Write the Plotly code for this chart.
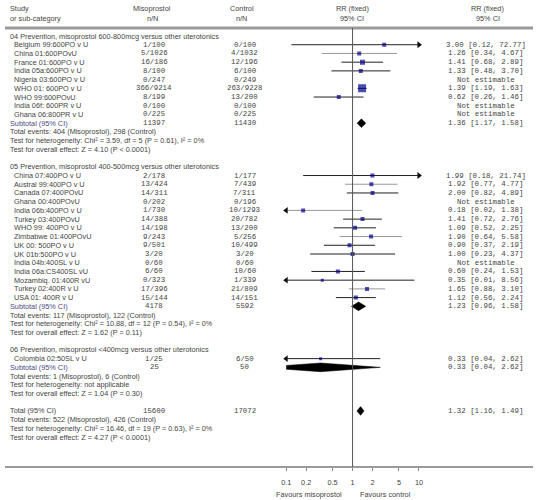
import plotly.graph_objects as go

# ---------------- data ----------------
s04_title = "04 Prevention, misoprostol 600-800mcg versus other uterotonics"
s04_studies = ["Belgium 99:600PO v U", "China 01:600POvU", "France 01:600PO v U",
               "India 05a:600PO v U", "Nigeria 03:600PO v U", "WHO 01: 600PO v U",
               "WHO 99:600POvU", "India 06f: 600PR v U", "Ghana 06:800PR v U"]
s04_miso = ["1/100", "5/1026", "16/186", "8/100", "0/247", "366/9214", "8/199", "0/100", "0/225"]
s04_ctrl = ["0/100", "4/1032", "12/196", "6/100", "0/249", "263/9228", "13/200", "0/100", "0/225"]
s04_rr = [3.00, 1.26, 1.41, 1.33, None, 1.39, 0.62, None, None]
s04_lo = [0.12, 0.34, 0.68, 0.48, None, 1.19, 0.26, None, None]
s04_hi = [72.77, 4.67, 2.89, 3.70, None, 1.63, 1.46, None, None]
s04_sub_n = ["11397", "11430"]
s04_sub = [1.36, 1.17, 1.58]
s04_notes = ["Total events: 404 (Misoprostol), 298 (Control)",
             "Test for heterogeneity: Chi² = 3.59, df = 5 (P = 0.61), I² = 0%",
             "Test for overall effect: Z = 4.10 (P < 0.0001)"]

s05_title = "05 Prevention, misoprostol 400-500mcg versus other uterotonics"
s05_studies = ["China 07:400PO v U", "Austral 99:400PO v U", "Canada 07:400POvU",
               "Ghana 00:400POvU", "India 06b:400PO v U", "Turkey 03:400POvU",
               "WHO 99: 400PO v U", "Zimbabwe 01:400POvU", "UK 00: 500PO v U",
               "UK 01b:500PO v U", "India 04b:400SL v U", "India 06a:CS400SL vU",
               "Mozambiq. 01:400R vU", "Turkey 02:400R v U", "USA 01: 400R v U"]
s05_miso = ["2/178", "13/424", "14/311", "0/202", "1/730", "14/388", "14/198", "9/243",
            "9/501", "3/20", "0/60", "6/60", "0/323", "17/396", "15/144"]
s05_ctrl = ["1/177", "7/439", "7/311", "0/196", "10/1293", "20/782", "13/200", "5/256",
            "10/499", "3/20", "0/60", "10/60", "1/339", "21/809", "14/151"]
s05_rr = [1.99, 1.92, 2.00, None, 0.18, 1.41, 1.09, 1.90, 0.90, 1.00, None, 0.60, 0.35, 1.65, 1.12]
s05_lo = [0.18, 0.77, 0.82, None, 0.02, 0.72, 0.52, 0.64, 0.37, 0.23, None, 0.24, 0.01, 0.88, 0.56]
s05_hi = [21.74, 4.77, 4.89, None, 1.38, 2.76, 2.25, 5.58, 2.19, 4.37, None, 1.53, 8.56, 3.10, 2.24]
s05_sub_n = ["4178", "5592"]
s05_sub = [1.23, 0.96, 1.58]
s05_notes = ["Total events: 117 (Misoprostol), 122 (Control)",
             "Test for heterogeneity: Chi² = 10.88, df = 12 (P = 0.54), I² = 0%",
             "Test for overall effect: Z = 1.62 (P = 0.11)"]

s06_title = "06 Prevention, misoprostol <400mcg versus other uterotonics"
s06_studies = ["Colombia 02:50SL v U"]
s06_miso = ["1/25"]
s06_ctrl = ["6/50"]
s06_rr = [0.33]
s06_lo = [0.04]
s06_hi = [2.62]
s06_sub_n = ["25", "50"]
s06_sub = [0.33, 0.04, 2.62]
s06_notes = ["Total events: 1 (Misoprostol), 6 (Control)",
             "Test for heterogeneity: not applicable",
             "Test for overall effect: Z = 1.04 (P = 0.30)"]

total_n = ["15600", "17072"]
total_rr = [1.32, 1.16, 1.49]
total_notes = ["Total events: 522 (Misoprostol), 426 (Control)",
               "Test for heterogeneity: Chi² = 16.46, df = 19 (P = 0.63), I² = 0%",
               "Test for overall effect: Z = 4.27 (P < 0.0001)"]

tick_vals = [0.1, 0.2, 0.5, 1, 2, 5, 10]
tick_text = ["0.1", "0.2", "0.5", "1", "2", "5", "10"]

# ---------------- styles ----------------
s04_sq = [4, 4, 5, 4, 0, 8, 4, 0, 0]
s04_lc = ["#222", "#999", "#222", "#222", "#222", "#222", "#222", "#222", "#222"]
s05_sq = [4, 4, 4, 0, 4, 4, 4, 4, 4, 4, 0, 4, 3, 4, 4]
s05_lc = ["#222", "#999", "#222", "#222", "#999", "#222", "#222", "#999", "#222", "#222",
          "#222", "#222", "#222", "#999", "#222"]
s06_sq = [3]
s06_lc = ["#222"]

W, H = 537, 500
Y0, S = 36.0, 8.72          # pixel of first row, row pitch
AX = 467.0                  # pixel of axis line
TXT = "#444"
SANS = "Liberation Sans, Arial, sans-serif"
MONO = "Liberation Mono, Courier New, monospace"
FS = 7.3
MS = 7.4
X_STUDY, X_HEAD, X_MISO, X_CTRL, X_RR = 7, 3, 152, 244, 489


def k_of(px):
    return (px - Y0) / S


fig = go.Figure()
ann = []


def text(xpx, k, t, anchor="left", font=SANS, size=FS, color=TXT, yref="y"):
    ann.append(dict(x=xpx / W, xref="paper", y=k, yref=yref, text=t, showarrow=False,
                    xanchor=anchor, yanchor="middle",
                    font=dict(family=font, size=size, color=color)))


def fmt(rr, lo, hi):
    if rr is None:
        return "Not estimable"
    return f"{rr:.2f} [{lo:.2f}, {hi:.2f}]"


sections = [
    (s04_title, s04_studies, s04_miso, s04_ctrl, s04_rr, s04_lo, s04_hi, s04_sub_n, s04_sub, s04_notes, s04_sq, s04_lc),
    (s05_title, s05_studies, s05_miso, s05_ctrl, s05_rr, s05_lo, s05_hi, s05_sub_n, s05_sub, s05_notes, s05_sq, s05_lc),
    (s06_title, s06_studies, s06_miso, s06_ctrl, s06_rr, s06_lo, s06_hi, s06_sub_n, s06_sub, s06_notes, s06_sq, s06_lc),
]

ci_by_color = {}
sq_x, sq_y, sq_s = [], [], []
arr_r, arr_l = [], []
diamonds = []


def add_diamond(est, lo, hi, k):
    h = 0.5
    diamonds.append(([lo, est, hi, est, lo], [k, k - h, k, k + h, k]))


k = 0
for (title, studies, miso, ctrl, rr, lo, hi, sub_n, sub, notes, sq, lc) in sections:
    text(X_HEAD, k, title)
    k += 1
    for i, st in enumerate(studies):
        text(X_STUDY, k, st)
        text(X_MISO, k, miso[i], "center", MONO, MS)
        text(X_CTRL, k, ctrl[i], "center", MONO, MS)
        text(X_RR, k, fmt(rr[i], lo[i], hi[i]), "center", MONO, MS)
        if rr[i] is not None:
            d = ci_by_color.setdefault(lc[i], ([], []))
            d[0].extend([lo[i], hi[i], None])
            d[1].extend([k, k, None])
            sq_x.append(rr[i]); sq_y.append(k); sq_s.append(sq[i])
            if hi[i] > 10:
                arr_r.append(k)
            if lo[i] < 0.1:
                arr_l.append(k)
        k += 1
    text(X_HEAD, k, "Subtotal (95% CI)", color="#4a4a80")
    text(X_MISO, k, sub_n[0], "center", MONO, MS)
    text(X_CTRL, k, sub_n[1], "center", MONO, MS)
    text(X_RR, k, fmt(*sub), "center", MONO, MS)
    add_diamond(sub[0], sub[1], sub[2], k)
    k += 1
    for n in notes:
        text(X_HEAD, k, n)
        k += 1
    k += 1  # blank line

text(X_HEAD, k, "Total (95% CI)")
text(X_MISO, k, total_n[0], "center", MONO, MS)
text(X_CTRL, k, total_n[1], "center", MONO, MS)
text(X_RR, k, fmt(*total_rr), "center", MONO, MS)
add_diamond(total_rr[0], total_rr[1], total_rr[2], k)
k += 1
for n in total_notes:
    text(X_HEAD, k, n)
    k += 1

# headers
text(X_HEAD, k_of(8), "Study")
text(X_HEAD, k_of(18), "or sub-category")
text(X_MISO - 2, k_of(8), "Misoprostol", "center")
text(X_MISO - 2, k_of(18), "n/N", "center")
text(X_CTRL - 3, k_of(8), "Control", "center")
text(X_CTRL - 3, k_of(18), "n/N", "center")
text(353, k_of(8), "RR (fixed)", "center")
text(353, k_of(18), "95% CI", "center")
text(X_RR + 2, k_of(8), "RR (fixed)", "center")
text(X_RR + 2, k_of(18), "95% CI", "center")

# footer
ann.append(dict(x=345 / W, xref="paper", y=1 - 494 / H, yref="paper", text="Favours misoprostol",
                showarrow=False, xanchor="right", yanchor="middle",
                font=dict(family=SANS, size=FS, color=TXT)))
ann.append(dict(x=359 / W, xref="paper", y=1 - 494 / H, yref="paper", text="Favours control",
                showarrow=False, xanchor="left", yanchor="middle",
                font=dict(family=SANS, size=FS, color=TXT)))

# ---------------- traces ----------------
for col, (xs, ys) in ci_by_color.items():
    fig.add_trace(go.Scatter(x=xs, y=ys, mode="lines", line=dict(color=col, width=1),
                             hoverinfo="skip", showlegend=False))
for dx, dy in diamonds:
    fig.add_trace(go.Scatter(x=dx, y=dy, mode="lines", fill="toself", fillcolor="black",
                             line=dict(color="black", width=0.5), hoverinfo="skip", showlegend=False))
fig.add_trace(go.Scatter(x=sq_x, y=sq_y, mode="markers",
                         marker=dict(symbol="square", size=sq_s, color="#00008b", line=dict(width=0)),
                         showlegend=False))
fig.add_trace(go.Scatter(x=[10] * len(arr_r), y=arr_r, mode="markers", cliponaxis=False,
                         marker=dict(symbol="triangle-right", size=6, color="#111"), showlegend=False))
fig.add_trace(go.Scatter(x=[0.1] * len(arr_l), y=arr_l, mode="markers", cliponaxis=False,
                         marker=dict(symbol="triangle-left", size=6, color="#111"), showlegend=False))

# ---------------- layout ----------------
shapes = [
    dict(type="line", xref="paper", yref="paper", x0=0, x1=1, y0=1 - 28 / H, y1=1 - 28 / H,
         line=dict(color="#9a9a9a", width=3)),
    dict(type="line", xref="paper", yref="paper", x0=0, x1=1, y0=1 - AX / H, y1=1 - AX / H,
         line=dict(color="#9a9a9a", width=2)),
    dict(type="line", xref="x", yref="y", x0=1, x1=1, y0=k_of(28), y1=k_of(AX),
         line=dict(color="#555", width=1)),
]

fig.update_layout(
    width=W, height=H, margin=dict(l=0, r=0, t=0, b=0),
    paper_bgcolor="white", plot_bgcolor="rgba(0,0,0,0)",
    annotations=ann, shapes=shapes, showlegend=False,
    xaxis=dict(type="log", range=[-1, 1], domain=[286 / W, 421 / W],
               tickvals=tick_vals, ticktext=tick_text, ticks="outside", ticklen=3,
               tickcolor="#888", showgrid=False, zeroline=False, showline=False,
               tickfont=dict(family=SANS, size=FS, color=TXT), ticklabelstandoff=5,
               fixedrange=True),
    yaxis=dict(range=[k_of(AX), k_of(0)], domain=[1 - AX / H, 1], visible=False, fixedrange=True),
)

fig.write_html("out.html", config={"displayModeBar": False},
               post_script="document.body.style.margin='0';")
